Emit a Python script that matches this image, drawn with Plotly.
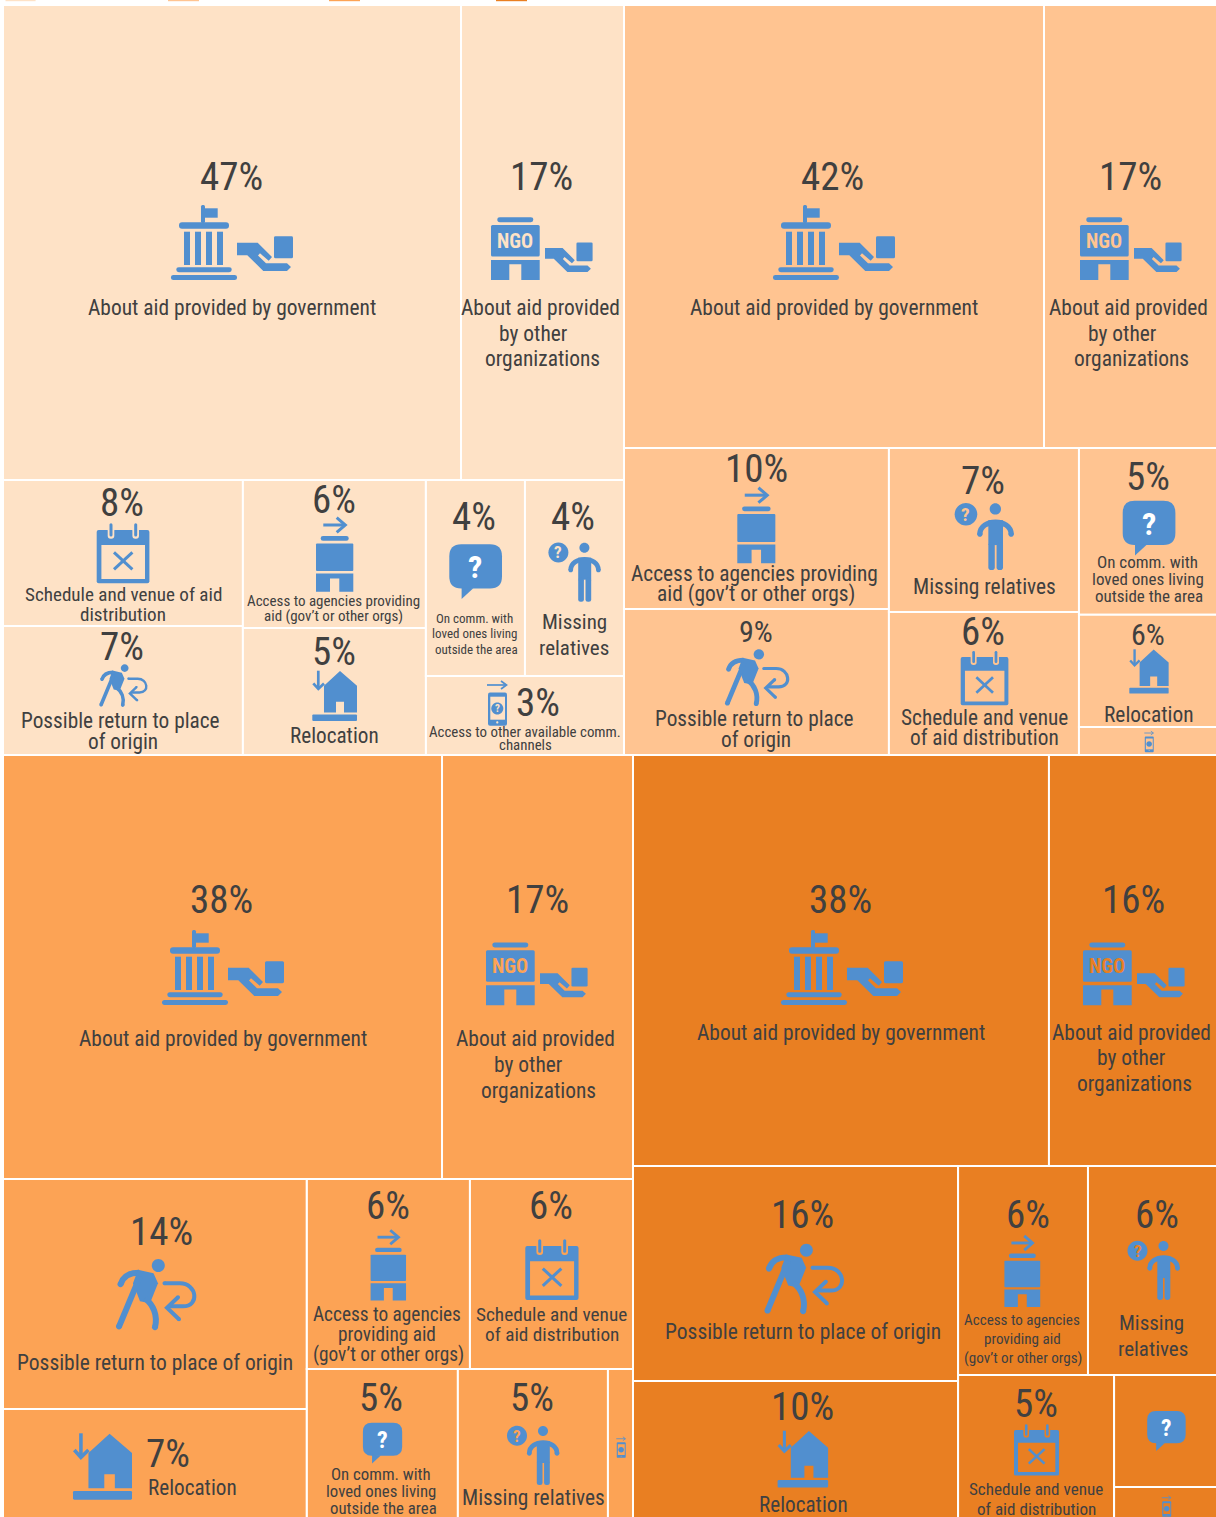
import re
import plotly.graph_objects as go

W, H = 1220, 1530
FONT = "Roboto Condensed, Liberation Sans Narrow, Arial Narrow, sans-serif"
INK = "#518fcf"
TXT = "#404040"

# tree of each panel, cell areas (leaves only, parents stay 0)
ids_a = ["root", "top", "bottom", "gov", "ngo", "c1", "c2", "c3", "sched", "ret", "access", "reloc", "r1", "other", "comm", "miss"]
parents_a = ["", "root", "root", "top", "top", "bottom", "bottom", "bottom", "c1", "c1", "c2", "c2", "c3", "c3", "r1", "r1"]
values_a = [0, 0, 0, 46.71, 16.62, 0, 0, 0, 7.52, 6.65, 5.82, 4.99, 0, 3.36, 4.17, 4.17]

ids_b = ["root", "top", "bottom", "gov", "ngo", "c1", "c2", "c3", "access", "ret", "miss", "sched", "comm", "reloc", "other"]
parents_b = ["", "root", "root", "top", "top", "bottom", "bottom", "bottom", "c1", "c1", "c2", "c2", "c3", "c3", "c3"]
values_b = [0, 0, 0, 41.83, 17.23, 0, 0, 0, 9.59, 8.70, 7.01, 6.11, 5.18, 3.48, 0.87]

ids_c = ["root", "top", "bottom", "gov", "ngo", "c1", "c2", "ret", "reloc", "r1", "r2", "access", "sched", "comm", "miss", "other"]
parents_c = ["", "root", "root", "top", "top", "bottom", "bottom", "c1", "c1", "c2", "c2", "r1", "r1", "r2", "r2", "r2"]
values_c = [0, 0, 0, 38.32, 16.67, 0, 0, 14.39, 7.32, 0, 0, 6.38, 6.38, 4.88, 4.85, 0.81]

ids_d = ["root", "top", "bottom", "gov", "ngo", "c1", "c2", "ret", "reloc", "r1", "r2", "access", "miss", "sched", "c3", "comm", "other"]
parents_d = ["", "root", "root", "top", "top", "bottom", "bottom", "c1", "c1", "c2", "c2", "r1", "r1", "r2", "r2", "c3", "c3"]
values_d = [0, 0, 0, 37.97, 15.34, 0, 0, 15.52, 10.47, 0, 0, 6.03, 5.99, 5.23, 0, 2.56, 0.89]

# label text
gov_txt = ["About aid provided by government"]
ngo_txt = ["About aid provided", "by other", "organizations"]
ret_txt = ["Possible return to place", "of origin"]
ret_one = ["Possible return to place of origin"]
sched_txt = ["Schedule and venue", "of aid distribution"]
access_txt = ["Access to agencies providing", "aid (gov’t or other orgs)"]
access_3 = ["Access to agencies", "providing aid", "(gov’t or other orgs)"]
comm_txt = ["On comm. with", "loved ones living", "outside the area"]
miss_txt = ["Missing", "relatives"]
miss_one = ["Missing relatives"]
reloc_txt = ["Relocation"]

panels = [
    (ids_a, parents_a, values_a, "#fee2c6", (3, 624, 5, 755)),
    (ids_b, parents_b, values_b, "#ffc491", (624, 1217, 5, 755)),
    (ids_c, parents_c, values_c, "#fca355", (3, 633, 755, 1526)),
    (ids_d, parents_d, values_d, "#e97f22", (633, 1217, 755, 1526)),
]


def px(x):
    return x / W


def py(y):
    return 1 - y / H


# icon outlines, local pixel units
def rr(x0, y0, x1, y1, r=0):
    if r == 0:
        return f"M {x0} {y0} L {x1} {y0} L {x1} {y1} L {x0} {y1} Z"
    return (f"M {x0+r} {y0} L {x1-r} {y0} Q {x1} {y0} {x1} {y0+r} L {x1} {y1-r} Q {x1} {y1} {x1-r} {y1} "
            f"L {x0+r} {y1} Q {x0} {y1} {x0} {y1-r} L {x0} {y0+r} Q {x0} {y0} {x0+r} {y0} Z")


def circ(cx, cy, r):
    k = r * 0.5523
    return (f"M {cx-r} {cy} C {cx-r} {cy-k} {cx-k} {cy-r} {cx} {cy-r} C {cx+k} {cy-r} {cx+r} {cy-k} {cx+r} {cy} "
            f"C {cx+r} {cy+k} {cx+k} {cy+r} {cx} {cy+r} C {cx-k} {cy+r} {cx-r} {cy+k} {cx-r} {cy} Z")


def poly(pts):
    return "M " + " L ".join(f"{x} {y}" for x, y in pts) + " Z"


def hand(ox, oy, s):
    pts = [(0, 6.7), (20.7, 6.7), (35, 21), (31.7, 24.7), (23, 17.3), (21, 19.5), (29, 27.3), (50, 27.3),
           (54, 31), (50, 35), (26.3, 35), (10.3, 19.3), (0, 19.3)]
    return [("fill", poly([(ox + x * s, oy + y * s) for x, y in pts])),
            ("fill", rr(ox + 37 * s, oy + 0.3 * s, ox + 56 * s, oy + 22.3 * s, 1.5 * s))]


def building():
    return [("fill", rr(6.3, 0, 42.3, 5, 2.5)),
            ("fill", rr(0, 7.7, 48.7, 39.3, 1.5)),
            ("fill", poly([(0, 42.7), (48.7, 42.7), (48.7, 62.7), (30.3, 62.7), (30.3, 47), (18.3, 47), (18.3, 62.7), (0, 62.7)]))]


def icon_gov():
    parts = [("fill", rr(30, 0, 34, 18, 1.5)), ("fill", rr(34, 3.3, 46.7, 12.7)), ("fill", rr(8, 17.3, 58, 23.7, 3)),
             ("fill", rr(5.3, 62.3, 60.7, 67.3, 2.5)), ("fill", rr(0, 70, 66, 75, 2.5))]
    for cx in [13, 24, 35, 46]:
        parts.append(("fill", rr(cx, 26.7, cx + 6, 60)))
    return parts + hand(66, 31, 1)


def icon_ngo():
    return building() + hand(54, 25, 0.85)


def icon_access():
    low = [(0, 56.7), (37.3, 56.7), (37.3, 75), (23.3, 75), (23.3, 61.7), (14, 61.7), (14, 75), (0, 75)]
    return [("line", "M 7.3 8.3 L 28.5 8.3", 3), ("line", "M 20.7 1 L 29.3 8.3 L 20.7 15.7", 3),
            ("fill", rr(4.7, 19.3, 32.7, 24, 2.3)), ("fill", rr(0, 26.7, 37.3, 54.3, 1)), ("fill", poly(low))]


def icon_cal():
    return [("fill", rr(0, 6.7, 52.7, 60, 2)), ("bg", rr(4.7, 21.7, 48.3, 55.7)),
            ("bg", rr(11, 4, 17.6, 15.5, 3)), ("bg", rr(35.7, 4, 42.3, 15.5, 3)),
            ("fill", rr(12.8, 0, 15.8, 13.3, 1.5)), ("fill", rr(37.5, 0, 40.5, 13.3, 1.5)),
            ("line", "M 17.3 29 L 35.7 46", 3), ("line", "M 35.7 29 L 17.3 46", 3)]


def icon_bubble():
    return [("fill", rr(0, 0, 52.7, 44.3, 12)), ("fill", poly([(12.3, 43), (12.3, 54.7), (24, 44)]))]


def icon_person():
    return [("fill", circ(9.7, 9.7, 10)), ("fill", circ(35.7, 5, 5)),
            ("line", "M 22 27.3 C 22 13 49.7 13 49.7 27.3", 4.7), ("fill", circ(22, 27.3, 2.35)), ("fill", circ(49.7, 27.3, 2.35)),
            ("fill", rr(29.5, 15, 42.5, 37)), ("fill", rr(29.5, 35, 35.2, 59, 2.5)), ("fill", rr(36.8, 35, 42.5, 59, 2.5))]


def icon_runner():
    return [("fill", circ(42.3, 6.3, 6.5)),
            ("line", "M 4.5 25 C 7 17 14 13.5 23 13.5", 6), ("fill", circ(4.5, 25, 3)),
            ("fill", poly([(22, 10.5), (37.5, 14), (42, 24), (34, 44), (24, 42), (17, 24)])),
            ("line", "M 24 17 L 3 67.3", 6), ("fill", circ(3, 67.3, 3)),
            ("line", "M 29 39 C 37 45 42 56 39 68", 6), ("fill", circ(39, 68, 3)),
            ("line", "M 48.5 24 L 64 24 C 81 24 84 47 67 47 L 53 47", 4), ("fill", circ(48.5, 24, 2)),
            ("line", "M 62 38 L 51 48.5 L 63 60", 4), ("fill", circ(62, 38, 2)), ("fill", circ(63, 60, 2))]


def icon_reloc():
    house = [(27.7, 0.3), (44.7, 15), (44.7, 41.7), (31.7, 41.7), (31.7, 31), (23.7, 31), (23.7, 41.7), (11.7, 41.7), (11.7, 15)]
    return [("fill", poly(house)), ("fill", rr(0, 43.7, 44.7, 50.3, 1)),
            ("line", "M 6 0 L 6 17", 2.7), ("line", "M 1 12.7 L 6 18.2 L 11.7 12.7", 2.7)]


def icon_phone():
    return [("line", "M 0 4.3 L 19 4.3", 1.7), ("line", "M 14 0.3 L 19.5 4.3 L 14 8.3", 1.7),
            ("fill", rr(1, 11.7, 20, 45, 2)), ("bg", rr(3.3, 16, 18, 39)),
            ("fill", circ(10.3, 27.7, 6)), ("bg", circ(10.3, 41.7, 1.1))]


ICONS = {"gov": icon_gov, "ngo": icon_ngo, "access": icon_access, "cal": icon_cal, "bubble": icon_bubble,
         "person": icon_person, "runner": icon_runner, "reloc": icon_reloc, "phone": icon_phone}

# panel, icon, left, top, scale
icon_spots = [
    (0, "gov", 171, 205, 1), (0, "ngo", 491, 217.3, 1), (0, "cal", 96.7, 523.3, 1), (0, "access", 316, 516.7, 1),
    (0, "runner", 99.3, 664.3, 0.6), (0, "reloc", 312.3, 670.7, 1), (0, "bubble", 449.3, 544.3, 1),
    (0, "person", 548.7, 542.7, 1), (0, "phone", 487, 680.7, 1),
    (1, "gov", 773, 205, 1), (1, "ngo", 1080, 217.3, 1), (1, "access", 737.3, 486.7, 1.02), (1, "runner", 725, 649.3, 0.8),
    (1, "person", 955, 503.3, 1.13), (1, "cal", 960.7, 651, 0.905), (1, "bubble", 1122.7, 500.7, 1),
    (1, "reloc", 1129.3, 649.3, 0.88), (1, "phone", 1144.3, 731, 0.47),
    (2, "gov", 162, 930, 1), (2, "ngo", 486, 942.5, 1), (2, "runner", 116, 1259.3, 1), (2, "access", 370.6, 1229.3, 0.95),
    (2, "cal", 525.3, 1239.3, 1.01), (2, "reloc", 73, 1433.3, 1.32), (2, "bubble", 362.9, 1422.7, 0.745),
    (2, "person", 507.3, 1426, 1), (2, "phone", 616.3, 1436.7, 0.47),
    (3, "gov", 781, 930, 1), (3, "ngo", 1083, 942.5, 1), (3, "runner", 764.5, 1244, 0.99), (3, "reloc", 777.6, 1430.7, 1.13),
    (3, "access", 1004.4, 1235, 0.96), (3, "person", 1127.8, 1241, 1), (3, "cal", 1014, 1424.3, 0.855),
    (3, "bubble", 1147.2, 1411, 0.73), (3, "phone", 1161.8, 1495.7, 0.47),
]

# percent text, centre x, centre y, size
pct_spots = [
    ("47%", 232, 177, 39), ("17%", 542, 177, 39), ("8%", 123, 503, 39), ("6%", 335, 500, 39), ("7%", 123, 647, 39),
    ("5%", 335, 652, 39), ("4%", 475, 517, 39), ("4%", 574, 517, 39), ("3%", 539, 703, 39),
    ("42%", 833, 177, 39), ("17%", 1131, 177, 39), ("10%", 757, 469, 39), ("7%", 984, 481, 39), ("5%", 1149, 477, 39),
    ("9%", 757, 631, 30), ("6%", 984, 632, 39), ("6%", 1149, 634, 30),
    ("38%", 222, 900, 39), ("17%", 538, 900, 39), ("14%", 162, 1232, 39), ("6%", 389, 1206, 39), ("6%", 552, 1206, 39),
    ("7%", 169, 1454, 39), ("5%", 382, 1398, 39), ("5%", 533, 1398, 39),
    ("38%", 841, 900, 39), ("16%", 1134, 900, 39), ("16%", 803, 1215, 39), ("10%", 803, 1407, 39),
    ("6%", 1029, 1215, 39), ("6%", 1158, 1215, 39), ("5%", 1037, 1404, 39),
]

# lines, centre x of each line, centre y of each line, size
label_spots = [
    (gov_txt, [232], [308], 21.45), (ngo_txt, [540, 533, 542], [308, 334, 359], 21.45),
    (["Schedule and venue of aid", "distribution"], [123, 123], [595, 615], 19.1),
    (access_txt, [333, 333.5], [602, 617], 15), (ret_txt, [120.5, 123], [721, 742], 21.3), (reloc_txt, [334.5], [736], 21.2),
    (comm_txt, [474.5, 474, 476], [619, 634, 650], 13), (miss_txt, [574, 574], [623, 649], 21),
    (["Access to other available comm.", "channels"], [525, 525], [733, 746], 14.9),
    (gov_txt, [834], [308], 21.45), (ngo_txt, [1128, 1122, 1131], [308, 334, 359], 21.45),
    (access_txt, [754.5, 756.5], [574.5, 594.5], 21.4), (ret_txt, [754.5, 756], [719, 740], 21.3), (miss_one, [984.5], [587], 21.4),
    (sched_txt, [984.5, 984], [718.5, 738.5], 21.3), (comm_txt, [1147.5, 1148, 1149], [563, 580, 597], 17),
    (reloc_txt, [1148.5], [715], 21.4),
    (gov_txt, [223], [1039], 21.45), (ngo_txt, [535, 528, 538], [1039, 1065, 1091], 21.45), (ret_one, [155], [1363], 21.5),
    (reloc_txt, [192.5], [1488], 21.2), (access_3, [387, 387, 388], [1315.5, 1335, 1355], 19.3),
    (sched_txt, [551.5, 551.5], [1315.5, 1335.5], 19.25), (comm_txt, [381, 381, 383], [1475, 1492, 1509], 16.8),
    (miss_one, [533], [1498], 21.4),
    (gov_txt, [841], [1033], 21.45), (ngo_txt, [1131, 1131, 1134], [1033, 1058, 1084], 21.45), (ret_one, [803], [1332], 21.5),
    (reloc_txt, [803], [1505], 21.2), (access_3, [1022, 1022, 1023], [1321, 1340, 1359], 15.1),
    (miss_txt, [1151, 1153], [1324, 1350], 21), (sched_txt, [1036, 1036], [1490, 1510], 17.1),
]

fig = go.Figure()
for ids, parents, values, color, (x0, x1, y0, y1) in panels:
    fig.add_trace(go.Treemap(
        ids=ids, labels=ids, parents=parents, values=values,
        branchvalues="remainder", sort=False, textinfo="none", hoverinfo="label+value",
        domain=dict(x=[px(x0), px(x1)], y=[py(y1), py(y0)]),
        tiling=dict(packing="dice-slice", pad=0),
        pathbar=dict(visible=False),
        marker=dict(colors=[color] * len(ids), line=dict(color="white", width=2),
                    pad=dict(t=0, l=0, r=0, b=0), depthfade=False),
    ))


def place(d, ox, oy, s):
    # local pixel path -> paper coordinates
    tokens = d.split()
    out, is_x = [], True
    for t in tokens:
        if re.fullmatch(r"[A-Za-z]", t):
            out.append(t)
            is_x = True
        else:
            v = float(t)
            out.append(f"{px(ox + v * s):.5f}" if is_x else f"{py(oy + v * s):.5f}")
            is_x = not is_x
    return " ".join(out)


shapes = []
annots = []


def text(t, x, y, size, color=TXT, bold=False):
    annots.append(dict(text=t, x=px(x), y=py(y), xref="paper", yref="paper", xanchor="center", yanchor="middle",
                       showarrow=False, font=dict(family=FONT, size=size, color=color, weight=700 if bold else 400)))


for panel, name, ox, oy, s in icon_spots:
    bg = panels[panel][3]
    for part in ICONS[name]():
        if part[0] == "line":
            shapes.append(dict(type="path", xref="paper", yref="paper", path=place(part[1], ox, oy, s),
                               line=dict(color=INK, width=part[2] * s), fillcolor="rgba(0,0,0,0)"))
        else:
            shapes.append(dict(type="path", xref="paper", yref="paper", path=place(part[1], ox, oy, s), line=dict(width=0),
                               fillcolor=INK if part[0] == "fill" else bg))
    if name == "ngo":
        text("NGO", ox + 24.3 * s, oy + 23.5 * s, 20 * s, color=bg, bold=True)
    elif name == "bubble":
        text("?", ox + 26 * s, oy + 23 * s, 32 * s, color="white", bold=True)
    elif name == "person":
        text("?", ox + 9.7 * s, oy + 9.7 * s, 17 * s, color=bg, bold=True)
    elif name == "phone" and s > 0.6:
        text("?", ox + 10.3 * s, oy + 27.7 * s, 11 * s, color=bg, bold=True)

for t, x, y, size in pct_spots:
    text(t, x - 0.6, y, size)
for lines, xs, ys, size in label_spots:
    for t, x, y in zip(lines, xs, ys):
        text(t, x, y - 0.6, size)

# legend swatches, only their bottom edge is left in the crop
for (x0, x1), p in zip([(5.5, 35.6), (168, 199), (329, 360), (496, 527)], panels):
    shapes.append(dict(type="rect", xref="paper", yref="paper", x0=px(x0), x1=px(x1), y0=py(1.2), y1=py(0),
                       line=dict(width=0), fillcolor=p[3]))

fig.update_layout(width=W, height=H, margin=dict(l=0, r=0, t=0, b=0), paper_bgcolor="white", showlegend=False,
                  font=dict(family=FONT), shapes=shapes, annotations=annots)

fig.write_html("out.html", config=dict(displayModeBar=False),
               post_script="document.body.style.margin='0';document.documentElement.style.overflow='hidden';")
